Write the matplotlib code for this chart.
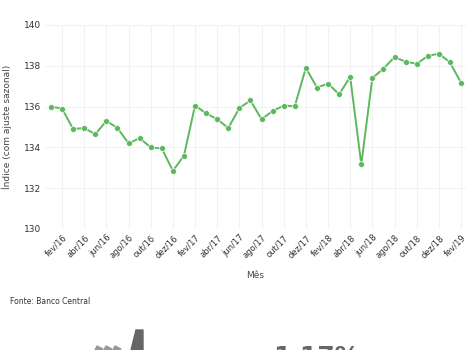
"""Índice com ajuste sazonal, jan/16 a fev/19"""

import matplotlib
matplotlib.use('Agg')
import matplotlib.pyplot as plt
from matplotlib.patches import Polygon

meses = ['jan', 'fev', 'mar', 'abr', 'mai', 'jun',
         'jul', 'ago', 'set', 'out', 'nov', 'dez']
anos = ['16', '17', '18', '19']
rotulos = [f'{m}/{a}' for a in anos for m in meses][:38]

indice = [136.0, 135.9, 134.9, 134.95, 134.65, 135.3, 134.95, 134.2, 134.45, 134.0,
          133.95, 132.85, 133.6, 136.05, 135.67, 135.38, 134.95, 135.93, 136.3, 135.38,
          135.78, 136.05, 136.02, 137.9, 136.93, 137.13, 136.6, 137.46, 133.17, 137.4,
          137.86, 138.43, 138.2, 138.1, 138.48, 138.6, 138.17, 137.17]

y_ticks = [130, 132, 134, 136, 138, 140]
destaque = '1,17%'

W, H = 471, 350
fig = plt.figure(figsize=(W / 100, H / 100), dpi=100)
ax = fig.add_axes([45 / W, 1 - 229 / H, (466 - 45) / W, (229 - 25) / H])

x = list(range(len(indice)))
ax.plot(x, indice, color='#5cb85c', linewidth=1.4, marker='o', markersize=4.3,
        markerfacecolor='#5cb85c', markeredgecolor='white', markeredgewidth=0.5,
        zorder=3)

ax.set_xlim(-0.54, 37.45)
ax.set_ylim(130, 140)
ax.set_yticks(y_ticks)
ax.set_yticklabels([str(v) for v in y_ticks], fontsize=6.5, color='#333333')
ax.set_xticks(x[1::2])
ax.set_xticklabels(rotulos[1::2], rotation=45, ha='right', rotation_mode='anchor',
                   fontsize=6, color='#333333')
ax.tick_params(length=0, pad=3)
ax.grid(True, color='#f2f2f2', linewidth=0.8)
for s in ax.spines.values():
    s.set_visible(False)

ax.set_ylabel('Índice (com ajuste sazonal)', fontsize=6.5, color='#444444', labelpad=8)
ax.set_xlabel('Mês', fontsize=6.5, color='#444444', labelpad=8)

fig.text(10 / W, 1 - 302 / H, 'Fonte: Banco Central', fontsize=5.5, color='#333333',
         va='center')

# Faixa inferior com o destaque (cortada pela borda)
cinza = '#666666'
seta = Polygon([(131 / W, 0), (136 / W, 1 - 330 / H), (143 / W, 1 - 330 / H), (143 / W, 0)],
               closed=True, transform=fig.transFigure, color=cinza)
fig.patches.append(seta)
for dx in (97, 106, 115):
    chev = Polygon([(dx / W, 1 - 346 / H), (dx / W + 6 / W, 1 - 349 / H),
                    (dx / W + 4 / W, 0), (dx / W - 2 / W, 0)],
                   closed=True, transform=fig.transFigure, color='#999999')
    fig.patches.append(chev)
fig.text(273 / W, 1 - 345 / H, destaque, fontsize=18, fontweight='bold', color=cinza,
         va='top', ha='left')

fig.savefig('out.png', dpi=100)
